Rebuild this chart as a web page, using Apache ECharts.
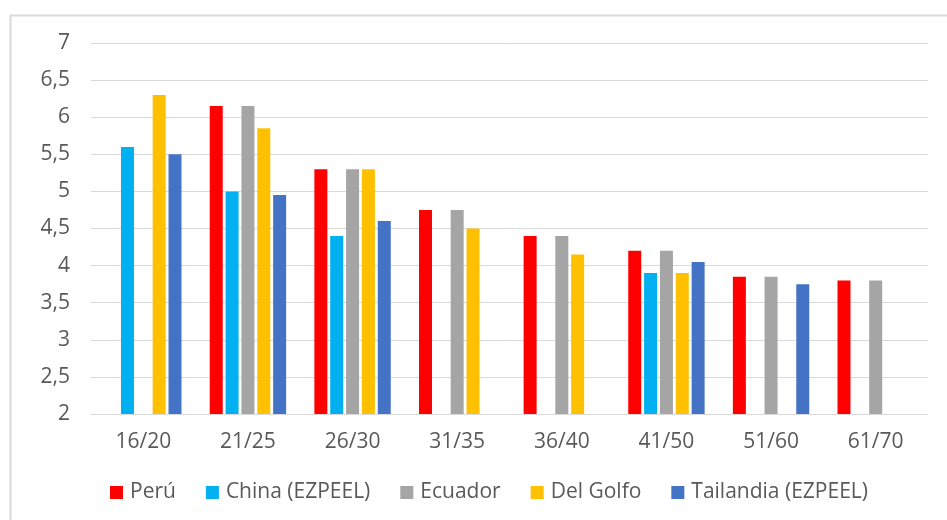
<!DOCTYPE html>
<html>
<head>
<meta charset="utf-8">
<script src="https://cdn.jsdelivr.net/npm/echarts@6/dist/echarts.min.js"></script>
<style>html,body{margin:0;padding:0;background:#fff}#c{width:947px;height:520px}</style>
</head>
<body>
<div id="c"></div>
<script>
const categories = ['16/20','21/25','26/30','31/35','36/40','41/50','51/60','61/70'];
const peru      = [null, 6.15, 5.3, 4.75, 4.4, 4.2, 3.85, 3.8];
const china     = [5.6, 5.0, 4.4, null, null, 3.9, null, null];
const ecuador   = [null, 6.15, 5.3, 4.75, 4.4, 4.2, 3.85, 3.8];
const delGolfo  = [6.3, 5.85, 5.3, 4.5, 4.15, 3.9, null, null];
const tailandia = [5.5, 4.95, 4.6, null, null, 4.05, 3.75, null];
const seriesNames = ['Perú','China (EZPEEL)','Ecuador','Del Golfo','Tailandia (EZPEEL)'];
const colors = ['#FF0000','#00B0F0','#A5A5A5','#FFC000','#4472C4'];
const allData = [peru, china, ecuador, delGolfo, tailandia];

const font = "'Open Sans', sans-serif";
const chart = echarts.init(document.getElementById('c'));
chart.setOption({
  animation: false,
  color: colors,
  graphic: [{
    type: 'rect', left: 8, top: 13, shape: {width: 960, height: 540},
    style: {fill: 'none', stroke: '#d9d9d9', lineWidth: 2}, silent: true
  }],
  grid: {left: 91, right: 19, top: 43, bottom: 106},
  legend: {
    left: 105, top: 477, itemWidth: 13, itemHeight: 13, itemGap: 30,
    icon: 'rect',
    textStyle: {fontFamily: font, fontSize: 21, color: '#595959', padding: [0, 0, 0, 2]},
    data: seriesNames
  },
  xAxis: {
    type: 'category', data: categories,
    axisLine: {lineStyle: {color: '#d9d9d9', width: 1}},
    axisTick: {show: false},
    axisLabel: {fontFamily: font, fontSize: 21, color: '#595959', margin: 18}
  },
  yAxis: {
    type: 'value', min: 2, max: 7, interval: 0.5,
    axisLine: {show: false}, axisTick: {show: false},
    splitLine: {lineStyle: {color: '#d9d9d9', width: 1}},
    axisLabel: {fontFamily: font, fontSize: 21, color: '#595959', margin: 21,
      formatter: v => String(v).replace('.', ',')}
  },
  series: allData.map((d, i) => ({
    name: seriesNames[i], type: 'bar', data: d,
    barGap: '22%', barCategoryGap: '27%',
    itemStyle: {color: colors[i]}
  }))
});
</script>
</body>
</html>
